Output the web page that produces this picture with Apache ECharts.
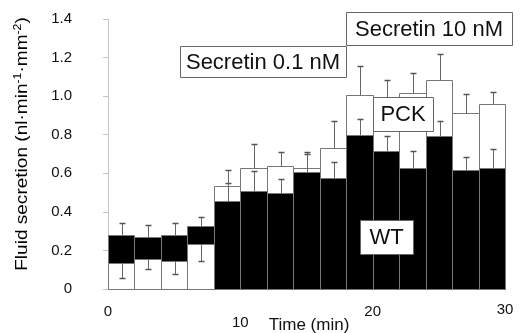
<!DOCTYPE html>
<html>
<head>
<meta charset="utf-8">
<script src="https://cdn.jsdelivr.net/npm/echarts@6/dist/echarts.min.js"></script>
<style>
html,body{margin:0;padding:0;background:#fff;}
#chart{width:520px;height:333px;}
</style>
</head>
<body>
<div id="chart"></div>
<script>
// Time bins (start of each 2-min collection period, min)
var binStart = [0, 2, 4, 6, 8, 10, 12, 14, 16, 18, 20, 22, 24, 26, 28];
var binLength = 2;
// Fluid secretion (nl·min-1·mm-2)
var wtValues  = [0.280, 0.268, 0.280, 0.325, 0.456, 0.509, 0.499, 0.605, 0.577, 0.800, 0.715, 0.626, 0.793, 0.617, 0.626];
var pckValues = [0.133, 0.157, 0.143, 0.232, 0.535, 0.628, 0.638, 0.629, 0.729, 1.006, 0.960, 1.018, 1.082, 0.911, 0.957];
// Error-bar end points
var wtErrEnd  = [0.344, 0.332, 0.344, 0.372, 0.548, 0.610, 0.569, 0.698, 0.660, 0.880, 0.795, 0.717, 0.869, 0.686, 0.724];
var pckErrEnd = [0.059, 0.105, 0.079, 0.143, 0.617, 0.750, 0.712, 0.712, 0.873, 1.156, 1.083, 1.118, 1.218, 1.011, 1.023];
// Axis ticks
var xTicks = [0, 10, 20, 30];
var yTicks = [0, 0.2, 0.4, 0.6, 0.8, 1.0, 1.2, 1.4];

var rows = binStart.map(function (s, i) {
  return [s, s + binLength, wtValues[i], pckValues[i], wtErrEnd[i], pckErrEnd[i]];
});

var chart = echarts.init(document.getElementById('chart'), null, {renderer: 'canvas'});
var FONT = 'Liberation Sans, Arial, sans-serif';
var EDGE = '#777';

function px(v) { return Math.round(v) + 0.5; }

function renderItem(params, api) {
  var xl = px(api.coord([api.value(0), 0])[0]);
  var xr = px(api.coord([api.value(1), 0])[0]);
  var base = px(api.coord([0, 0])[1]);
  var wtY = px(api.coord([0, api.value(2)])[1]);
  var pkY = px(api.coord([0, api.value(3)])[1]);
  var wtE = px(api.coord([0, api.value(4)])[1]);
  var pkE = px(api.coord([0, api.value(5)])[1]);
  var xm = px((xl + xr) / 2);
  var cap = 3;
  function rect(y, fill) {
    return {type: 'rect', shape: {x: xl, y: y, width: xr - xl, height: base - y},
      style: {fill: fill, stroke: EDGE, lineWidth: 1}};
  }
  function whisker(y0, y1) {
    return [
      {type: 'line', shape: {x1: xm, y1: y0, x2: xm, y2: y1}, style: {stroke: '#666', lineWidth: 1}},
      {type: 'line', shape: {x1: xm - cap, y1: y1, x2: xm + cap, y2: y1}, style: {stroke: '#555', lineWidth: 1.5}}
    ];
  }
  var wtRect = rect(wtY, '#000');
  var pkRect = rect(pkY, '#fff');
  var children = (wtY < pkY) ? [wtRect, pkRect] : [pkRect, wtRect];
  children = children.concat(whisker(wtY, wtE), whisker(pkY, pkE));
  return {type: 'group', children: children};
}

var xRich = {
  p0: {fontSize: 15, fontFamily: FONT, color: '#111', padding: [2, 0, 0, 0]},
  p10: {fontSize: 15, fontFamily: FONT, color: '#111', padding: [13, 0, 0, 0]},
  p20: {fontSize: 15, fontFamily: FONT, color: '#111', padding: [2, 0, 0, 0]},
  p30: {fontSize: 15, fontFamily: FONT, color: '#111', padding: [0, 0, 0, 0]}
};

function box(x, y, w, h, label) {
  return [
    {type: 'rect', z: 100, shape: {x: x + 0.5, y: y + 0.5, width: w, height: h},
      style: {fill: '#fff', stroke: '#666', lineWidth: 1}},
    {type: 'text', z: 101, x: x + w / 2, y: y + h / 2 + 1,
      style: {text: label, fontSize: 22, fontFamily: FONT, fill: '#111', align: 'center', verticalAlign: 'middle'}}
  ];
}

var option = {
  animation: false,
  backgroundColor: '#fff',
  grid: {left: 108, right: 15, top: 19, bottom: 44},
  xAxis: {
    type: 'value', min: xTicks[0], max: xTicks[xTicks.length - 1], interval: xTicks[1] - xTicks[0],
    axisLine: {show: false}, axisTick: {show: false}, splitLine: {show: false},
    axisLabel: {margin: 13, formatter: function (v) { return '{p' + v + '|' + v + '}'; }, rich: xRich}
  },
  yAxis: {
    type: 'value', min: yTicks[0], max: yTicks[yTicks.length - 1], interval: yTicks[1] - yTicks[0],
    offset: 21,
    axisLine: {show: true, lineStyle: {color: '#c4c4c4', width: 1}},
    axisTick: {show: true, length: 5, lineStyle: {color: '#c4c4c4'}},
    splitLine: {show: false},
    axisLabel: {margin: 15, fontSize: 15, fontFamily: FONT, color: '#111',
      formatter: function (v) { return v === 0 ? '0' : v.toFixed(1); }}
  },
  series: [{
    type: 'custom',
    renderItem: renderItem,
    encode: {x: [0, 1], y: [2, 3, 4, 5]},
    data: rows,
    clip: false
  }],
  graphic: [
    {type: 'text', z: 100, x: 22, y: 144, rotation: Math.PI / 2, scaleX: 1.12,
      style: {
        text: '{a|Fluid secretion (nl·min}{s|-1}{a|·mm}{s|-2}{a|)}',
        align: 'center', verticalAlign: 'middle',
        rich: {
          a: {fontSize: 17, fontFamily: FONT, color: '#111', lineHeight: 20},
          s: {fontSize: 11, fontFamily: FONT, color: '#111', verticalAlign: 'top', lineHeight: 12}
        }
      }},
    {type: 'text', z: 100, x: 309, y: 325,
      style: {text: 'Time (min)', fontSize: 17, fontFamily: FONT, fill: '#111', align: 'center', verticalAlign: 'middle'}}
  ].concat(
    box(346, 12, 166, 33, 'Secretin 10 nM'),
    box(180, 46, 166, 31, 'Secretin 0.1 nM'),
    box(373, 97, 60, 34, 'PCK'),
    box(360, 220, 53, 34, 'WT')
  )
};
chart.setOption(option);
</script>
</body>
</html>
